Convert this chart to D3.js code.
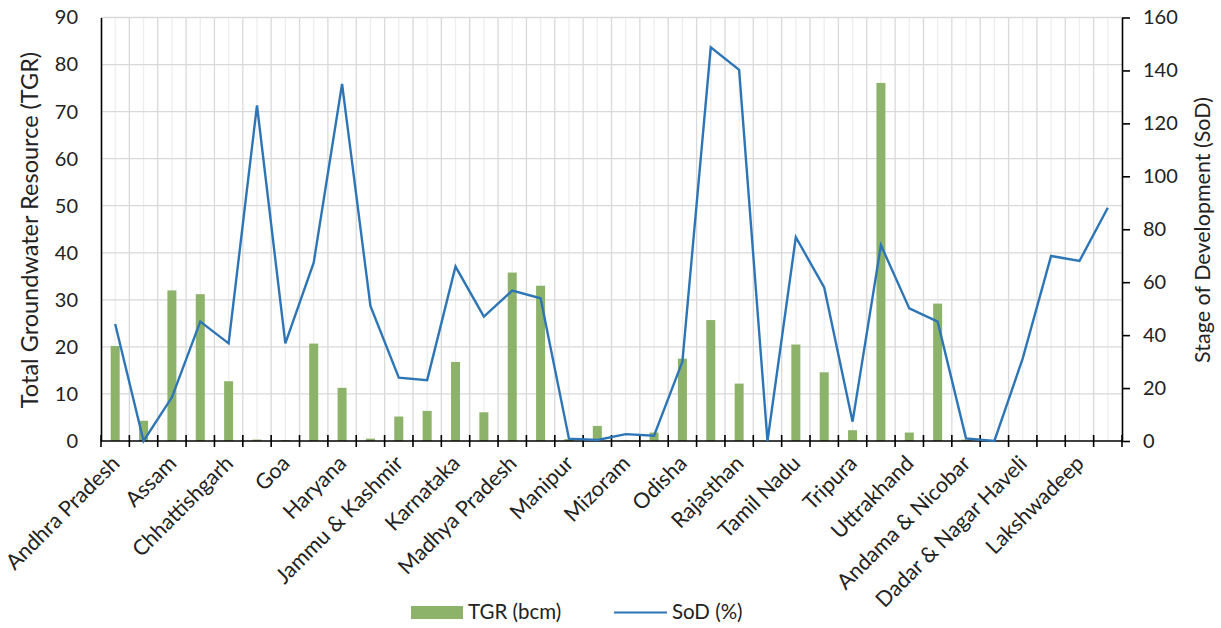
<!DOCTYPE html>
<html><head><meta charset="utf-8">
<script src="https://cdn.jsdelivr.net/npm/d3@7"></script>
<style>body{margin:0;background:#fff}svg{display:block}text{font-family:Lato,"Open Sans",sans-serif;fill:#222}</style>
</head><body>
<svg id="c" width="1221" height="628"></svg>
<script>
const categories = ["Andhra Pradesh","Arunachal Pradesh","Assam","Bihar","Chhattishgarh","Delhi","Goa","Gujarat","Haryana","Himachal Pradesh","Jammu & Kashmir","Jharkhand","Karnataka","Kerala","Madhya Pradesh","Maharashtra","Manipur","Meghalaya","Mizoram","Nagaland","Odisha","Punjab","Rajasthan","Sikkim","Tamil Nadu","Telangana","Tripura","Uttar Pradesh","Uttrakhand","West Bengal","Andama & Nicobar","Chandigarh","Dadar & Nagar Haveli","Daman & Diu","Lakshwadeep","Puducherry"];
const tgr = [20.2,4.3,32.0,31.2,12.7,0.3,0.2,20.7,11.3,0.5,5.2,6.4,16.8,6.1,35.8,33.0,0.4,3.2,0.1,1.8,17.5,25.7,12.2,0,20.5,14.6,2.3,76.1,1.8,29.2,0.3,0,0,0,0,0];
const sod = [44.2,0,16.5,45.1,36.9,126.8,36.9,67.4,134.9,51,23.9,23.0,65.9,47,56.8,53.9,0.9,0.4,2.6,2.0,30,148.7,140.2,0,77,58,7.3,74,50.1,45.1,1.0,0,31.2,69.9,68,88.1];
const leftTicks = [0,10,20,30,40,50,60,70,80,90];
const rightTicks = [0,20,40,60,80,100,120,140,160];
const legendLabels = ["TGR (bcm)","SoD (%)"];

const svg = d3.select("#c");
const L = 101, R = 1122, T = 17.5, B = 441;
const x = d3.scaleBand().domain(categories).range([L, R]).paddingInner(0).paddingOuter(0);
const yL = d3.scaleLinear().domain([0, 90]).range([B, T]);
const yR = d3.scaleLinear().domain([0, 160]).range([B, T]);
const bw = x.bandwidth();

// minor vertical gridlines at centers
svg.append("g").selectAll("line").data(categories).join("line")
  .attr("x1", d => x(d) + bw/2).attr("x2", d => x(d) + bw/2)
  .attr("y1", T).attr("y2", B).attr("stroke", "#eeeeee").attr("stroke-width", 1.3);
// major vertical gridlines at boundaries
svg.append("g").selectAll("line").data(categories.slice(1)).join("line")
  .attr("x1", d => x(d)).attr("x2", d => x(d))
  .attr("y1", T).attr("y2", B).attr("stroke", "#d9d9d9").attr("stroke-width", 1.3);
// horizontal gridlines
svg.append("g").selectAll("line").data(leftTicks.slice(1)).join("line")
  .attr("x1", L).attr("x2", R).attr("y1", d => yL(d)).attr("y2", d => yL(d))
  .attr("stroke", "#d9d9d9").attr("stroke-width", 1.3);

// bars
const barW = 9;
svg.append("g").selectAll("rect").data(categories).join("rect")
  .attr("x", (d) => x(d) + bw/2 - barW/2)
  .attr("y", (d, i) => yL(tgr[i]))
  .attr("width", barW)
  .attr("height", (d, i) => B - yL(tgr[i]))
  .attr("fill", "#8db26a");

// left axis
const gl = svg.append("g").attr("transform", `translate(${L},0)`)
  .call(d3.axisLeft(yL).tickValues(leftTicks).tickSize(0).tickPadding(23));
gl.select(".domain").attr("stroke", "#000").attr("stroke-width", 1.6);
gl.selectAll("text").attr("font-size", 20).attr("fill", "#222").style("font-family", "Lato");

// right axis
const gr = svg.append("g").attr("transform", `translate(${R},0)`)
  .call(d3.axisRight(yR).tickValues(rightTicks).tickSize(8).tickPadding(13).tickSizeOuter(0));
gr.select(".domain").attr("stroke", "#000").attr("stroke-width", 1.6);
gr.selectAll("line").attr("stroke", "#000").attr("stroke-width", 1.6);
gr.selectAll("text").attr("font-size", 20).attr("fill", "#222").style("font-family", "Lato");

// x axis
const gx = svg.append("g").attr("transform", `translate(0,${B})`);
gx.append("line").attr("x1", L).attr("x2", R).attr("stroke", "#000").attr("stroke-width", 1.6);
const bounds = categories.map(d => x(d)).concat([R]);
gx.selectAll("line.tk").data(bounds).join("line").attr("class","tk")
  .attr("x1", d => d).attr("x2", d => d).attr("y1", -6).attr("y2", 6)
  .attr("stroke", "#000").attr("stroke-width", 1.6);
gx.selectAll("text").data(categories.filter((d, i) => i % 2 === 0)).join("text")
  .attr("transform", d => `translate(${x(d) + bw/2 - 5},${13}) rotate(-45)`)
  .attr("text-anchor", "end").attr("dy", "0.71em")
  .attr("font-size", 21.5).text(d => d);

// line
const line = d3.line().x((d, i) => x(categories[i]) + bw/2).y(d => yR(d));
svg.append("path").datum(sod).attr("d", line).attr("fill", "none")
  .attr("stroke", "#2e75b6").attr("stroke-width", 2.4).attr("stroke-linejoin", "miter");

// axis titles
svg.append("text").attr("transform", `translate(38,230) rotate(-90)`)
  .attr("text-anchor", "middle").attr("font-size", 23.5).text("Total Groundwater Resource (TGR)");
svg.append("text").attr("transform", `translate(1210,230) rotate(-90)`)
  .attr("text-anchor", "middle").attr("font-size", 21.5).text("Stage of Development (SoD)");

// legend
const lg = svg.append("g");
lg.append("rect").attr("x", 411).attr("y", 606).attr("width", 52).attr("height", 13).attr("fill", "#8db26a");
lg.append("text").attr("x", 468).attr("y", 619).attr("font-size", 20.5).text(legendLabels[0]);
lg.append("line").attr("x1", 614).attr("x2", 667).attr("y1", 612.5).attr("y2", 612.5).attr("stroke", "#2e75b6").attr("stroke-width", 2);
lg.append("text").attr("x", 672).attr("y", 619).attr("font-size", 20.5).text(legendLabels[1]);
</script>
</body></html>
